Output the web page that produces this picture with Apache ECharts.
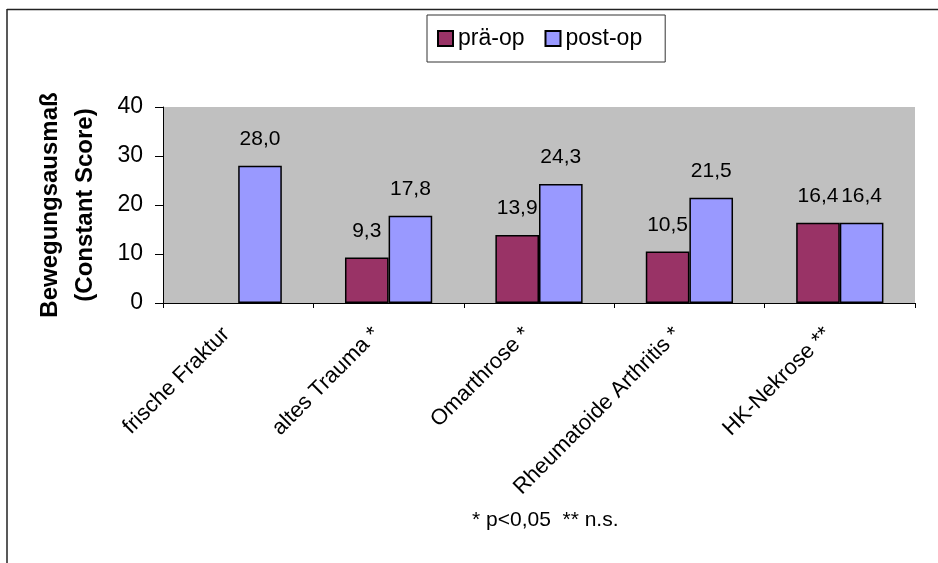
<!DOCTYPE html>
<html>
<head>
<meta charset="utf-8">
<script src="https://cdn.jsdelivr.net/npm/echarts@6/dist/echarts.min.js"></script>
<style>
html,body{margin:0;padding:0;background:#fff;}
#chart{width:938px;height:563px;}
</style>
</head>
<body>
<div id="chart"></div>
<script>
const categories = ['frische Fraktur', 'altes Trauma *', 'Omarthrose *', 'Rheumatoide Arthritis *', 'HK-Nekrose **'];
const seriesNames = ['prä-op', 'post-op'];
const preOp = [null, 9.3, 13.9, 10.5, 16.4];
const postOp = [28.0, 17.8, 24.3, 21.5, 16.4];
const yTicks = [0, 10, 20, 30, 40];
const yAxisTitle = 'Bewegungsausmaß\n(Constant Score)';
const footnote = '* p<0,05  ** n.s.';

const FONT = '"Liberation Sans", Arial, sans-serif';
const fmt = p => (p.value == null ? '' : p.value.toFixed(1).replace('.', ','));

const chart = echarts.init(document.getElementById('chart'), null, {renderer: 'canvas'});
const labelStyle = {
  show: true, position: 'top', distance: 16, formatter: fmt,
  fontFamily: FONT, fontSize: 21, color: '#000'
};
chart.setOption({
  animation: false,
  backgroundColor: '#fff',
  textStyle: {fontFamily: FONT},
  grid: {left: 163, right: 23, top: 107, bottom: 260, show: true, backgroundColor: '#C0C0C0', borderWidth: 0},
  legend: {
    left: 427, top: 15,
    data: seriesNames,
    orient: 'horizontal',
    padding: [12, 23, 12, 10],
    itemGap: 20,
    itemWidth: 15, itemHeight: 15,
    borderColor: '#333', borderWidth: 1, backgroundColor: '#fff',
    icon: 'rect',
    textStyle: {fontFamily: FONT, fontSize: 23, color: '#000'}
  },
  xAxis: {
    type: 'category',
    data: categories,
    axisLine: {lineStyle: {color: '#000', width: 1}},
    axisTick: {show: true, length: 5, lineStyle: {color: '#000'}},
    axisLabel: {rotate: 45, margin: 16, fontFamily: FONT, fontSize: 22, color: '#000', interval: 0, padding: [0, 17, 0, 0]}
  },
  yAxis: {
    type: 'value',
    min: yTicks[0], max: yTicks[yTicks.length - 1], interval: 10,
    name: yAxisTitle,
    nameLocation: 'middle',
    nameGap: 60,
    nameRotate: 90,
    nameTextStyle: {fontFamily: FONT, fontSize: 24, fontWeight: 'bold', color: '#000', lineHeight: 35},
    axisLine: {show: true, lineStyle: {color: '#000', width: 1}},
    axisTick: {show: true, length: 8, lineStyle: {color: '#000'}},
    axisLabel: {margin: 20, fontFamily: FONT, fontSize: 23, color: '#000'},
    splitLine: {show: false}
  },
  series: [
    {
      name: seriesNames[0], type: 'bar', data: preOp,
      barGap: '0%', barCategoryGap: '42%',
      itemStyle: {color: '#993366', borderColor: '#000', borderWidth: 1.5},
      label: labelStyle
    },
    {
      name: seriesNames[1], type: 'bar', data: postOp,
      barGap: '0%', barCategoryGap: '42%',
      itemStyle: {color: '#9999FF', borderColor: '#000', borderWidth: 1.5},
      label: labelStyle
    }
  ],
  graphic: [
    {type: 'line', shape: {x1: 7, y1: 9.5, x2: 938, y2: 9.5}, style: {stroke: '#222', lineWidth: 1.5}, silent: true},
    {type: 'line', shape: {x1: 7, y1: 9, x2: 7, y2: 563}, style: {stroke: '#222', lineWidth: 1.5}, silent: true},
    {type: 'text', left: 472, top: 510, style: {text: footnote, fontFamily: FONT, fontSize: 21, fill: '#000'}}
  ]
});
</script>
</body>
</html>
